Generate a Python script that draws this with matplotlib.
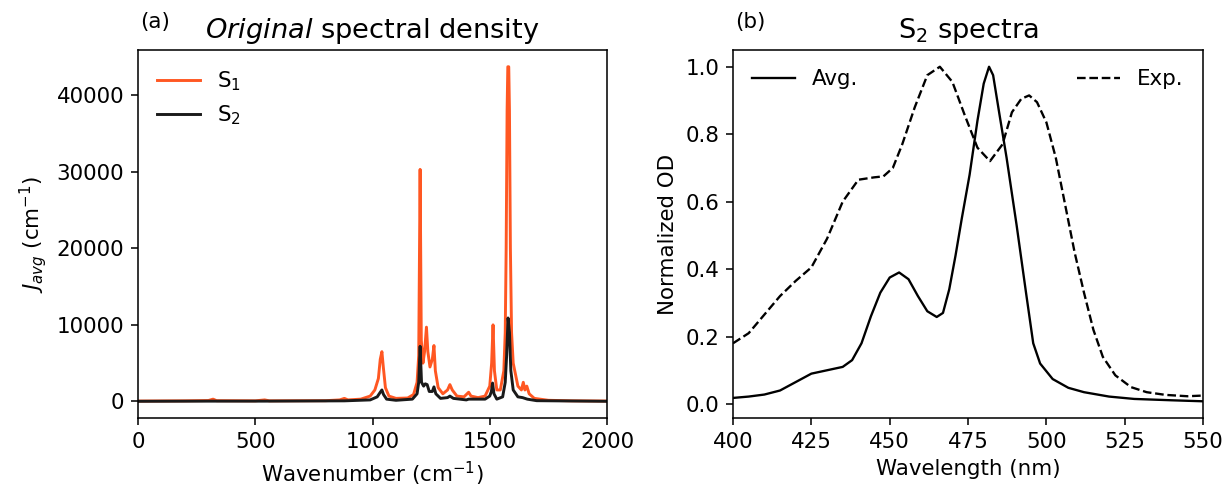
import matplotlib
matplotlib.use('Agg')
import matplotlib.pyplot as plt
from matplotlib.ticker import MultipleLocator

plt.rcParams['font.family'] = 'DejaVu Sans'
plt.rcParams['font.size'] = 11
plt.rcParams['mathtext.fontset'] = 'dejavusans'

# ── (a) spectral density ─────────────────────────────────────────────────────
s1_wn = [0, 200, 300, 320, 335, 500, 540, 560, 800, 860, 880, 895, 950, 990,
         1010, 1025, 1033, 1040, 1046, 1055, 1070, 1100, 1150, 1175, 1190, 1197,
         1203, 1208, 1215, 1222, 1230, 1236, 1245, 1255, 1262, 1268, 1280, 1300,
         1320, 1330, 1340, 1360, 1390, 1410, 1420, 1450, 1480, 1500, 1508, 1514,
         1520, 1530, 1545, 1560, 1566, 1570, 1574, 1577, 1581, 1584, 1588, 1593,
         1600, 1620, 1635, 1643, 1650, 1658, 1668, 1690, 1750, 1850, 2000]
s1_j = [50, 80, 120, 300, 100, 80, 200, 80, 100, 200, 400, 200, 300, 700,
        1500, 3000, 5500, 6500, 4500, 1800, 700, 400, 450, 900, 2500, 6000,
        30300, 8000, 5000, 6500, 9700, 6500, 4500, 5500, 7300, 4000, 1800, 1000,
        1500, 2200, 1500, 700, 600, 1200, 700, 500, 700, 2000, 5000, 10000,
        4000, 1500, 1500, 4000, 9000, 20000, 38000, 43700, 43700, 38000, 20000, 9000,
        5000, 2000, 1500, 2500, 1500, 2000, 1000, 400, 150, 80, 50]

s2_wn = [0, 300, 540, 880, 990, 1020, 1033, 1040, 1047, 1060, 1100, 1170,
         1190, 1197, 1203, 1209, 1218, 1225, 1233, 1242, 1255, 1262, 1270,
         1290, 1320, 1330, 1345, 1400, 1410, 1480, 1500, 1507, 1512, 1518,
         1530, 1555, 1566, 1572, 1578, 1584, 1590, 1600, 1620, 1640, 1660,
         1700, 2000]
s2_j = [20, 40, 40, 80, 200, 600, 1200, 1500, 900, 300, 150, 300,
        1000, 2500, 7200, 2500, 2000, 2300, 2200, 1300, 1300, 1900, 1000,
        400, 500, 700, 400, 200, 300, 300, 700, 1300, 2400, 1000,
        300, 600, 2500, 6000, 10900, 9000, 4000, 1500, 600, 500, 300,
        100, 20]

# ── (b) S2 spectra ───────────────────────────────────────────────────────────
avg_nm = [400, 405, 410, 415, 420, 425, 430, 435, 438, 441, 444, 447, 450, 453,
          456, 459, 462, 465, 467, 469, 471, 473, 475.5, 478, 480, 481.7, 483,
          485, 487.3, 490.5, 493.5, 495.8, 498, 502, 507, 512, 520, 528, 540, 550]
avg_od = [0.018, 0.022, 0.028, 0.04, 0.065, 0.09, 0.10, 0.11, 0.13, 0.18, 0.26,
          0.33, 0.375, 0.39, 0.37, 0.32, 0.275, 0.258, 0.27, 0.34, 0.44, 0.55,
          0.68, 0.84, 0.95, 1.0, 0.975, 0.86, 0.73, 0.53, 0.33, 0.18, 0.12,
          0.074, 0.048, 0.035, 0.022, 0.015, 0.011, 0.008]

exp_nm = [400, 405, 410, 415, 420, 425, 430, 435, 440, 445, 448, 451, 454, 458,
          462, 466, 470, 474, 478, 482, 486, 489, 492, 494.5, 497, 500, 503, 506,
          509, 512, 515, 518, 522, 527, 532, 538, 545, 550]
exp_od = [0.18, 0.21, 0.265, 0.32, 0.365, 0.405, 0.49, 0.60, 0.665, 0.672, 0.675,
          0.70, 0.77, 0.88, 0.975, 1.0, 0.955, 0.855, 0.76, 0.72, 0.77, 0.865,
          0.905, 0.915, 0.895, 0.835, 0.73, 0.59, 0.45, 0.33, 0.22, 0.14, 0.085,
          0.05, 0.035, 0.027, 0.023, 0.025]

DPI = 140
fig = plt.figure(figsize=(1226 / DPI, 488 / DPI), dpi=DPI)
ax1 = fig.add_axes([0.1126, 0.1434, 0.3825, 0.7541])
ax2 = fig.add_axes([0.5979, 0.1434, 0.3834, 0.7541])

ax1.plot(s1_wn, s1_j, color='#FF5722', lw=1.5, label='S$_1$')
ax1.plot(s2_wn, s2_j, color='#1a1a1a', lw=1.5, label='S$_2$')
ax1.set_xlim(0, 2000)
ax1.xaxis.set_major_locator(MultipleLocator(500))
ax1.yaxis.set_major_locator(MultipleLocator(10000))
ax1.set_xlabel('Wavenumber (cm$^{-1}$)')
ax1.set_ylabel('$J_{avg}$ (cm$^{-1}$)')
ax1.set_title('$\\it{Original}$ spectral density', fontsize=14)
ax1.text(0.005, 1.06, '(a)', transform=ax1.transAxes, fontsize=11, va='baseline')
ax1.legend(loc='upper left', frameon=False)

l_avg, = ax2.plot(avg_nm, avg_od, color='black', lw=1.2, label='Avg.')
l_exp, = ax2.plot(exp_nm, exp_od, color='black', lw=1.2, ls='--', label='Exp.')
ax2.set_xlim(400, 550)
ax2.xaxis.set_major_locator(MultipleLocator(25))
ax2.yaxis.set_major_locator(MultipleLocator(0.2))
ax2.set_xlabel('Wavelength (nm)')
ax2.set_ylabel('Normalized OD')
ax2.set_title('S$_2$ spectra', fontsize=14)
ax2.text(0.005, 1.06, '(b)', transform=ax2.transAxes, fontsize=11, va='baseline')
leg = ax2.legend(handles=[l_avg], loc='upper left', frameon=False)
ax2.add_artist(leg)
ax2.legend(handles=[l_exp], loc='upper right', frameon=False)

fig.savefig('out.png', dpi=DPI, facecolor='white')
